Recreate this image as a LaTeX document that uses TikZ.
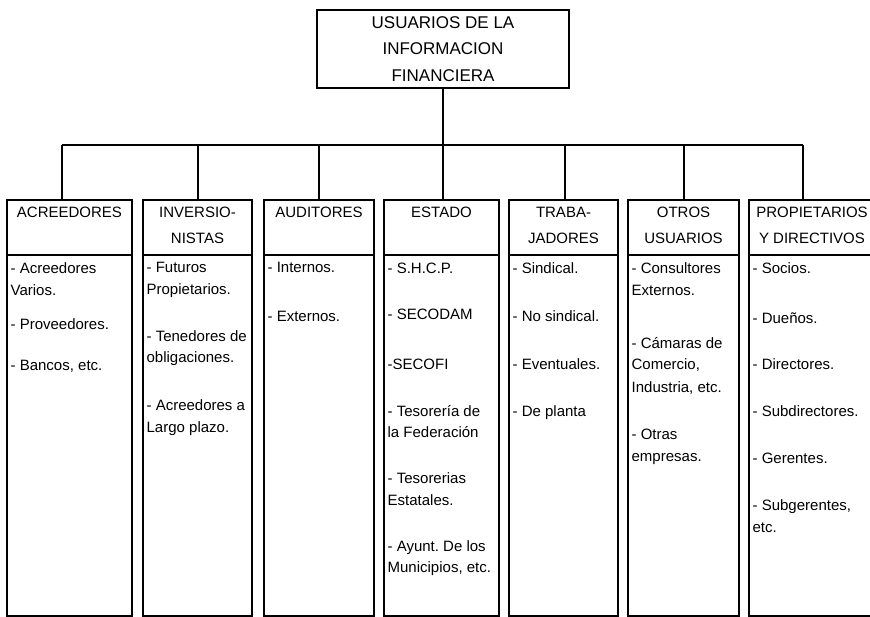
\documentclass[tikz,border=0pt]{standalone}
\usepackage{fontspec}
\setmainfont{Liberation Sans}
\usetikzlibrary{positioning}
\frenchspacing

\begin{document}
\begin{tikzpicture}[x=1pt,y=-1pt,line width=1.3pt]
    \tikzstyle{box}=[draw,rectangle,inner sep=0pt,outer sep=0pt]
    \tikzstyle{root}=[box,minimum width=252pt,minimum height=78pt,align=center,font=\fontsize{17}{26.5}\selectfont]
    \tikzstyle{head}=[box,minimum height=55pt]
    \tikzstyle{body}=[box,minimum height=361pt]
    \tikzstyle{headtext}=[inner sep=0pt,align=center,font=\fontsize{15}{26}\selectfont]
    \tikzstyle{bodytext}=[inner sep=0pt,align=left,font=\fontsize{15}{21.5}\selectfont]

    \useasboundingbox (0,0) rectangle (870,617);

    % Draw the root node
    \node[root] (U) at (443,49) {USUARIOS DE LA\\INFORMACION\\FINANCIERA};

    % Draw the column boxes (header and body)
    \foreach \name/\xl/\xr in {1/7/132,2/143/252,3/264/374,4/384/499,5/509/618,6/628/739,7/749/875}{
        \node[head,minimum width={(\xr-\xl)*1pt}] (H-\name) at ({(\xl+\xr)/2},227.5) {};
        \node[body,minimum width={(\xr-\xl)*1pt},below=0pt of H-\name] (B-\name) {};
    }

    % Branch points on the bus
    \foreach \name/\x in {1/62,2/198,3/319,4/443,5/565,6/684,7/803}
        \coordinate (D-\name) at (\x,145);

    % Connect the root with every column
    \draw (D-1) -- (D-7);
    \draw (U.south) -- (U.south |- D-1);
    \foreach \name in {1,...,7}
        \draw (D-\name) -- (D-\name |- H-\name.north);

    % Column titles
    \node[headtext,below=6.5pt of H-1.north] (HT-1) {ACREEDORES};
    \node[headtext,below=6.5pt of H-2.north] (HT-2) {INVERSIO-\\NISTAS};
    \node[headtext,below=6.5pt of H-3.north] (HT-3) {AUDITORES};
    \node[headtext,below=6.5pt of H-4.north] (HT-4) {ESTADO};
    \node[headtext,below=6.5pt of H-5.north] (HT-5) {TRABA-\\JADORES};
    \node[headtext,below=6.5pt of H-6.north] (HT-6) {OTROS\\USUARIOS};
    \node[headtext,below=6.5pt of H-7.north] (HT-7) {PROPIETARIOS\\Y DIRECTIVOS};

    % Column contents
    \node[bodytext,below right=7pt and 3pt of B-1.north west] (T-1)
        {- Acreedores\\Varios.\\[12.5pt]- Proveedores.\\[19.5pt]- Bancos, etc.};
    \node[bodytext,below right=7pt and 3pt of B-2.north west] (T-2)
        {- Futuros\\Propietarios.\\[25.5pt]- Tenedores de\\obligaciones.\\[26.5pt]- Acreedores a\\Largo plazo.};
    \node[bodytext,below right=7pt and 3pt of B-3.north west] (T-3)
        {- Internos.\\[27.5pt]- Externos.};
    \node[bodytext,below right=7pt and 3pt of B-4.north west] (T-4)
        {- S.H.C.P.\\[24.5pt]- SECODAM\\[28.5pt]-SECOFI\\[25.5pt]- Tesorería de\\la Federación\\[24.5pt]- Tesorerias\\Estatales.\\[24.5pt]- Ayunt. De los\\Municipios, etc.};
    \node[bodytext,below right=7pt and 3pt of B-5.north west] (T-5)
        {- Sindical.\\[26.5pt]- No sindical.\\[26.5pt]- Eventuales.\\[25.5pt]- De planta};
    \node[bodytext,below right=7pt and 3pt of B-6.north west] (T-6)
        {- Consultores\\Externos.\\[31.5pt]- Cámaras de\\Comercio,\\[1.5pt]Industria, etc.\\[25.5pt]- Otras\\empresas.};
    \node[bodytext,below right=7pt and 3pt of B-7.north west] (T-7)
        {- Socios.\\[28.5pt]- Dueños.\\[24.5pt]- Directores.\\[25.5pt]- Subdirectores.\\[25.5pt]- Gerentes.\\[25.5pt]- Subgerentes,\\etc.};
\end{tikzpicture}
\end{document}
